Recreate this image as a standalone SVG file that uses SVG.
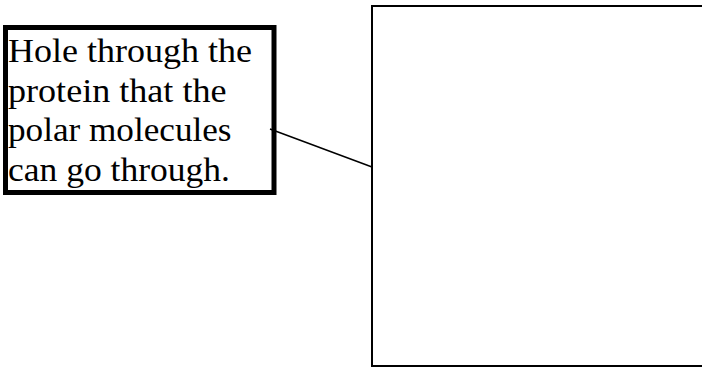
<svg xmlns="http://www.w3.org/2000/svg" width="702" height="368" viewBox="0 0 702 368">
<style>
.t{font-family:"Liberation Serif","Times New Roman",serif;font-size:33px;fill:#000}
</style>
<rect width="702" height="368" fill="#fff"/>
<g id="label">
<rect x="5.5" y="27.5" width="268.5" height="165" fill="#fff" stroke="#000" stroke-width="5"/>
<text class="t" x="8" y="62" textLength="244" lengthAdjust="spacingAndGlyphs">Hole through the</text>
<text class="t" x="8" y="101.5" textLength="218.5" lengthAdjust="spacingAndGlyphs">protein that the</text>
<text class="t" x="8" y="141" textLength="223.5" lengthAdjust="spacingAndGlyphs">polar molecules</text>
<text class="t" x="8" y="180.5" textLength="222" lengthAdjust="spacingAndGlyphs">can go through.</text>
</g>
<g id="protein">
<rect x="372" y="6" width="340" height="360" fill="#fff" stroke="#000" stroke-width="2"/>
</g>
<g id="connectors">
<line x1="270" y1="129" x2="372" y2="167" stroke="#000" stroke-width="1.5"/>
</g>
</svg>
